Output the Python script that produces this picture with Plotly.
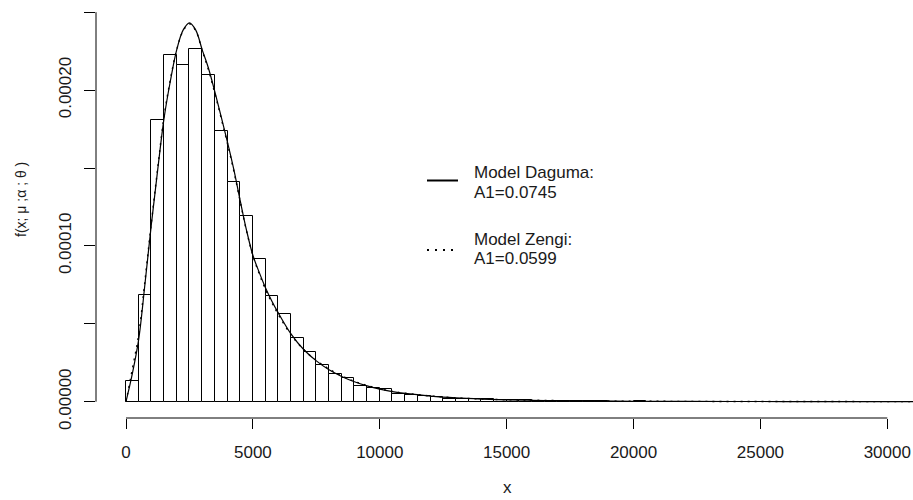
import plotly.graph_objects as go

# ---- data ----
bin_width = 500
bin_starts = list(range(0, 20500, 500))  # 0 .. 20000
density = [1.35e-5, 6.83e-5, 1.808e-4, 2.223e-4, 2.159e-4, 2.266e-4, 2.095e-4,
           1.735e-4, 1.412e-4, 1.192e-4, 9.14e-5, 6.78e-5, 5.61e-5, 4.11e-5,
           3.19e-5, 2.34e-5, 1.76e-5, 1.54e-5, 1.01e-5, 9.0e-6, 8.0e-6, 4.9e-6,
           4.3e-6, 3.9e-6, 2.8e-6, 1.9e-6, 1.7e-6, 1.9e-6, 1.5e-6, 1.1e-6,
           1.0e-6, 0.9e-6, 0.5e-6, 0.4e-6, 0.3e-6, 0.3e-6, 0.3e-6, 0.3e-6,
           0.0, 0.0, 0.5e-6]

curve_x = [0, 250, 500, 750, 1000, 1250, 1500, 1750, 2000, 2250, 2500, 2750,
           3000, 3250, 3500, 3750, 4000, 4250, 4500, 4750, 5000, 5250, 5500,
           5750, 6000, 6500, 7000, 7500, 8000, 8500, 9000, 9500, 10000, 10500,
           11000, 12000, 13000, 14000, 15000, 16000, 17000, 18000, 20000,
           22000, 25000, 28000, 31200]
dagum_y = [0, 1.8e-5, 4.0e-5, 7.6e-5, 1.14e-4, 1.49e-4, 1.82e-4, 2.06e-4,
           2.26e-4, 2.385e-4, 2.432e-4, 2.385e-4, 2.26e-4, 2.14e-4, 1.99e-4,
           1.83e-4, 1.665e-4, 1.49e-4, 1.29e-4, 1.10e-4, 9.4e-5, 8.3e-5, 7.3e-5,
           6.45e-5, 5.7e-5, 4.35e-5, 3.35e-5, 2.62e-5, 2.05e-5, 1.62e-5, 1.28e-5,
           1.02e-5, 8.1e-6, 6.5e-6, 5.3e-6, 3.6e-6, 2.45e-6, 1.7e-6, 1.2e-6,
           0.9e-6, 0.65e-6, 0.5e-6, 0.3e-6, 0.2e-6, 0.12e-6, 0.08e-6, 0.05e-6]
zenga_y = [0, 2.1e-5, 4.3e-5, 7.8e-5, 1.15e-4, 1.50e-4, 1.83e-4, 2.07e-4,
           2.26e-4, 2.38e-4, 2.425e-4, 2.38e-4, 2.255e-4, 2.13e-4, 1.98e-4,
           1.82e-4, 1.655e-4, 1.48e-4, 1.285e-4, 1.095e-4, 9.4e-5, 8.2e-5, 7.2e-5,
           6.35e-5, 5.6e-5, 4.3e-5, 3.35e-5, 2.65e-5, 2.1e-5, 1.66e-5, 1.31e-5,
           1.04e-5, 8.3e-6, 6.6e-6, 5.4e-6, 3.7e-6, 2.5e-6, 1.75e-6, 1.25e-6,
           0.95e-6, 0.7e-6, 0.52e-6, 0.32e-6, 0.21e-6, 0.13e-6, 0.09e-6, 0.06e-6]

x_ticks = [0, 5000, 10000, 15000, 20000, 25000, 30000]
y_ticks = [0, 0.00005, 0.0001, 0.00015, 0.0002, 0.00025]
y_ticktext = ["0.00000", "", "0.00010", "", "0.00020", ""]

legend_labels = [["Model Daguma:", "A1=0.0745"], ["Model Zengi:", "A1=0.0599"]]

# ---- layout geometry (window pixels; body margin removed by post_script) ----
W, H = 913, 500
ML = 96
PLOT_BOTTOM = 418
MB = H - PLOT_BOTTOM
PW, PH = W - ML, H - MB
FONT = "Liberation Sans, Arial, Helvetica, sans-serif"
TXT = "#1a1a1a"

def px_x(p):
    return (p - ML) / PW

def px_y(p):
    return (PLOT_BOTTOM - p) / PH

fig = go.Figure()

centers = [s + bin_width / 2 for s in bin_starts]
fig.add_trace(go.Bar(x=centers, y=density, width=bin_width,
                     marker=dict(color="white", line=dict(color="black", width=1)),
                     showlegend=False, hoverinfo="skip"))
fig.add_trace(go.Scatter(x=curve_x, y=dagum_y, mode="lines", line_shape="spline",
                         line=dict(color="black", width=1.2),
                         showlegend=False, hoverinfo="skip"))
fig.add_trace(go.Scatter(x=curve_x, y=zenga_y, mode="lines", line_shape="spline",
                         line=dict(color="black", width=1.4, dash="2px,5px"),
                         showlegend=False, hoverinfo="skip"))

shapes = [
    dict(type="line", xref="x", yref="paper", x0=x_ticks[0], x1=x_ticks[-1],
         y0=0, y1=0, line=dict(color="black", width=1)),
    dict(type="line", xref="paper", yref="y", x0=0, x1=0, y0=y_ticks[0],
         y1=y_ticks[-1], line=dict(color="black", width=1)),
    # legend samples
    dict(type="line", xref="paper", yref="paper", x0=px_x(427), x1=px_x(458),
         y0=px_y(180.5), y1=px_y(180.5), line=dict(color="black", width=2)),
    dict(type="line", xref="paper", yref="paper", x0=px_x(427), x1=px_x(458),
         y0=px_y(250), y1=px_y(250), line=dict(color="black", width=2, dash="2px,6px")),
]

annotations = []
rows = [(172.5, 192.5), (239, 258.5)]
for (l1, l2), (y1, y2) in zip(legend_labels, rows):
    for txt, yy in ((l1, y1), (l2, y2)):
        annotations.append(dict(text=txt, xref="paper", yref="paper",
                                x=px_x(472), y=px_y(yy), xanchor="left",
                                yanchor="middle", showarrow=False,
                                font=dict(family=FONT, size=17, color=TXT)))
annotations.append(dict(text="x", xref="paper", yref="paper", x=px_x(507),
                        y=px_y(487), xanchor="center", yanchor="middle",
                        showarrow=False, font=dict(family=FONT, size=17, color=TXT)))
annotations.append(dict(text="f(x; μ ;α ; θ )", xref="paper", yref="paper",
                        x=px_x(21), y=px_y(200), xanchor="center", yanchor="middle",
                        textangle=-90, showarrow=False,
                        font=dict(family=FONT, size=14, color=TXT)))

# axis scales (window pixels): x 0 -> 126, 30000 -> 887.3 ; y 0 -> 401.7, 5e-5 per 77.9 px
x_left = -(126 - ML) / (761.3 / 30000)
x_right = x_left + PW / (761.3 / 30000)
ppu = 77.9 / 5e-5
y_bottom = -(PLOT_BOTTOM - 401.7) / ppu
y_top = y_bottom + PH / ppu

fig.update_layout(
    width=W, height=H,
    margin=dict(l=ML, r=0, t=0, b=MB, pad=0),
    paper_bgcolor="white", plot_bgcolor="white",
    bargap=0,
    shapes=shapes, annotations=annotations,
    xaxis=dict(range=[x_left, x_right], tickvals=x_ticks,
               ticktext=[str(v) for v in x_ticks],
               ticks="outside", ticklen=10, tickwidth=1, tickcolor="black",
               showline=False, showgrid=False, zeroline=False,
               ticklabelstandoff=9,
               tickfont=dict(family=FONT, size=17, color=TXT)),
    yaxis=dict(range=[y_bottom, y_top], tickvals=y_ticks, ticktext=y_ticktext,
               ticks="outside", ticklen=11, tickwidth=1, tickcolor="black",
               showline=False, showgrid=False, zeroline=False,
               tickangle=-90, ticklabelstandoff=6,
               tickfont=dict(family=FONT, size=17, color=TXT)),
)

fig.write_html("out.html", config={"displayModeBar": False},
               post_script="document.body.style.margin='0px';"
                           "document.body.style.overflow='hidden';")
